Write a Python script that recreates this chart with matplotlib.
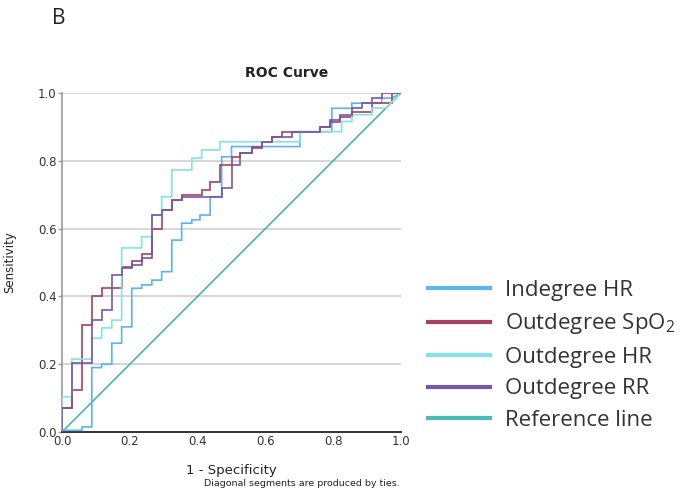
import matplotlib
matplotlib.use("Agg")
import matplotlib.pyplot as plt
from matplotlib.lines import Line2D

plt.rcParams['mathtext.fontset'] = 'custom'
plt.rcParams['mathtext.rm'] = 'Open Sans'
plt.rcParams['mathtext.it'] = 'Open Sans'

# ---- data: ROC staircase vertices (1 - specificity, sensitivity) ----
indeg_hr_fpr = [0, 0, 0.059, 0.059, 0.088, 0.088, 0.117, 0.117, 0.147, 0.147, 0.176, 0.176,
                0.206, 0.206, 0.235, 0.235, 0.265, 0.265, 0.294, 0.294, 0.324, 0.324, 0.353,
                0.353, 0.383, 0.383, 0.407, 0.407, 0.437, 0.437, 0.471, 0.471, 0.50, 0.50,
                0.702, 0.702, 0.796, 0.796, 0.855, 0.855, 0.943, 0.943, 0.973, 1.0]
indeg_hr_tpr = [0, 0.005, 0.005, 0.015, 0.015, 0.19, 0.19, 0.20, 0.20, 0.262, 0.262, 0.31,
                0.31, 0.424, 0.424, 0.434, 0.434, 0.448, 0.448, 0.473, 0.473, 0.566, 0.566,
                0.616, 0.616, 0.626, 0.626, 0.64, 0.64, 0.694, 0.694, 0.812, 0.812, 0.842,
                0.842, 0.886, 0.886, 0.955, 0.955, 0.97, 0.97, 0.985, 0.985, 1.0]

outdeg_spo2_fpr = [0, 0, 0.029, 0.029, 0.058, 0.058, 0.088, 0.088, 0.117, 0.117, 0.176, 0.176,
                   0.206, 0.206, 0.235, 0.235, 0.265, 0.265, 0.294, 0.294, 0.324, 0.324, 0.353,
                   0.353, 0.412, 0.412, 0.437, 0.437, 0.466, 0.466, 0.50, 0.50, 0.525, 0.525,
                   0.56, 0.56, 0.589, 0.589, 0.619, 0.619, 0.648, 0.648, 0.761, 0.761, 0.79,
                   0.79, 0.82, 0.82, 0.855, 0.855, 0.914, 0.914, 0.973, 0.973, 1.0]
outdeg_spo2_tpr = [0, 0.07, 0.07, 0.124, 0.124, 0.316, 0.316, 0.40, 0.40, 0.424, 0.424, 0.488,
                   0.488, 0.503, 0.503, 0.525, 0.525, 0.60, 0.60, 0.655, 0.655, 0.684, 0.684,
                   0.70, 0.70, 0.714, 0.714, 0.738, 0.738, 0.788, 0.788, 0.812, 0.812, 0.822,
                   0.822, 0.842, 0.842, 0.856, 0.856, 0.871, 0.871, 0.886, 0.886, 0.90, 0.90,
                   0.914, 0.914, 0.929, 0.929, 0.943, 0.943, 0.97, 0.97, 1.0, 1.0]

outdeg_hr_fpr = [0, 0, 0.029, 0.029, 0.088, 0.088, 0.117, 0.117, 0.147, 0.147, 0.176, 0.176,
                 0.235, 0.235, 0.265, 0.265, 0.294, 0.294, 0.324, 0.324, 0.383, 0.383, 0.412,
                 0.412, 0.466, 0.466, 0.702, 0.702, 0.825, 0.825, 0.855, 0.855, 0.914, 0.914,
                 0.955, 1.0]
outdeg_hr_tpr = [0, 0.104, 0.104, 0.215, 0.215, 0.277, 0.277, 0.307, 0.307, 0.33, 0.33, 0.543,
                 0.543, 0.576, 0.576, 0.64, 0.64, 0.694, 0.694, 0.773, 0.773, 0.808, 0.808,
                 0.832, 0.832, 0.856, 0.856, 0.886, 0.886, 0.916, 0.916, 0.936, 0.936, 0.956,
                 0.956, 1.0]

outdeg_rr_fpr = [0, 0, 0.029, 0.029, 0.088, 0.088, 0.117, 0.117, 0.147, 0.147, 0.176, 0.176,
                 0.206, 0.206, 0.235, 0.235, 0.265, 0.265, 0.294, 0.294, 0.324, 0.324, 0.353,
                 0.353, 0.471, 0.471, 0.50, 0.50, 0.525, 0.525, 0.56, 0.56, 0.589, 0.589,
                 0.619, 0.619, 0.678, 0.678, 0.761, 0.761, 0.79, 0.79, 0.82, 0.82, 0.855,
                 0.855, 0.884, 0.884, 0.914, 0.914, 0.943, 0.943, 1.0]
outdeg_rr_tpr = [0, 0.07, 0.07, 0.203, 0.203, 0.33, 0.33, 0.36, 0.36, 0.463, 0.463, 0.483,
                 0.483, 0.493, 0.493, 0.513, 0.513, 0.64, 0.64, 0.655, 0.655, 0.684, 0.684,
                 0.694, 0.694, 0.72, 0.72, 0.788, 0.788, 0.822, 0.822, 0.837, 0.837, 0.856,
                 0.856, 0.871, 0.871, 0.886, 0.886, 0.90, 0.90, 0.92, 0.92, 0.935, 0.935,
                 0.955, 0.955, 0.97, 0.97, 0.985, 0.985, 1.0, 1.0]

ref_x = [0, 1]
ref_y = [0, 1]

series_labels = ["Indegree HR", "Outdegree SpO$_2$", "Outdegree HR", "Outdegree RR", "Reference line"]
series_colors = ["#5bb4ec", "#a8405f", "#86e3e3", "#7556a8", "#4dbdb3"]
ticks = [0.0, 0.2, 0.4, 0.6, 0.8, 1.0]
tick_labels = ["0.0", "0.2", "0.4", "0.6", "0.8", "1.0"]

fig = plt.figure(figsize=(6.85, 4.92), dpi=100)
ax = fig.add_axes([62/685, 60/492, 339/685, 339/492])

curves = [(indeg_hr_fpr, indeg_hr_tpr), (outdeg_spo2_fpr, outdeg_spo2_tpr),
          (outdeg_hr_fpr, outdeg_hr_tpr), (outdeg_rr_fpr, outdeg_rr_tpr)]
for (fx, ty), c in zip(curves, series_colors[:4]):
    ax.plot(fx, ty, color=c, lw=1.2, solid_joinstyle='miter', zorder=3)
ax.plot(ref_x, ref_y, color="#3fb3a3", lw=1.1, zorder=2)

ax.set_xlim(0, 1)
ax.set_ylim(0, 1)
ax.set_xticks(ticks)
ax.set_xticklabels(tick_labels)
ax.set_yticks(ticks)
ax.set_yticklabels(tick_labels)
for y in ticks[1:]:
    ax.axhline(y, color="#d6d6d6", lw=1.4, zorder=1)
for s in ["top", "right"]:
    ax.spines[s].set_visible(False)
ax.spines["left"].set_color("#9a9a9a")
ax.spines["left"].set_linewidth(1.2)
ax.spines["bottom"].set_color("#333333")
ax.spines["bottom"].set_linewidth(1.4)
ax.tick_params(axis='x', length=0, pad=2, labelsize=8.5, colors="#333333")
ax.tick_params(axis='y', length=3, width=1, color="#9a9a9a", pad=1, labelsize=8.5, labelcolor="#333333")
ax.set_xlabel("1 - Specificity", fontsize=9.5, labelpad=12, color="#222222")
ax.set_ylabel("Sensitivity", fontsize=8.5, labelpad=14, color="#222222")
ax.yaxis.set_label_coords(-0.135, 0.5)

fig.text(287/685, 1 - 73/492, "ROC Curve", ha="center", va="center", fontsize=10, fontweight="bold", color="#222222")
fig.text(400/685, 1 - 484/492, "Diagonal segments are produced by ties.", ha="right", va="center", fontsize=6.8, color="#222222")
fig.text(52/685, 1 - 18/492, "B", ha="left", va="center", fontsize=15, family="Open Sans", color="#222222")

handles = [Line2D([0], [0], color=c, lw=3) for c in series_colors]
leg = fig.legend(handles, series_labels, loc="upper left", bbox_to_anchor=(428/685, 1 - 280/492),
                 frameon=False, prop={"family": "Open Sans", "size": 16}, handlelength=2.8,
                 handletextpad=0.68, labelspacing=0.47, borderaxespad=0, borderpad=0)
for t in leg.get_texts():
    t.set_color("#333333")

fig.savefig("out.png", dpi=100)
